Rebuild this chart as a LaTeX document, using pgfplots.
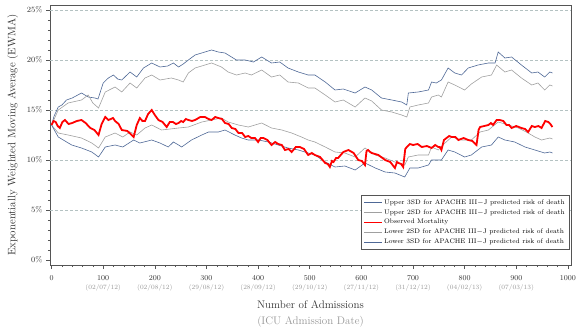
\documentclass[border=0pt]{standalone}
\usepackage{pgfplots}
\pgfplotsset{compat=1.18}
\definecolor{bluel}{RGB}{78,104,150}
\definecolor{grayl}{RGB}{160,160,160}
\definecolor{gridc}{RGB}{180,194,194}
\definecolor{framec}{RGB}{85,85,85}
\definecolor{datec}{RGB}{150,150,150}
\begin{document}
\begin{tikzpicture}
\begin{axis}[
  at={(0,0)}, anchor=south west,
  scale only axis, width=521pt, height=260pt,
  xmin=-3, xmax=1006, ymin=-0.5, ymax=25.5,
  axis line style={framec, line width=0.6pt},
  tick align=outside, tick style={framec, line width=0.5pt},
  major tick length=4pt, minor tick length=2.2pt,
  xtick={0,100,...,1000},
  xticklabels={0,{100\\\textcolor{datec}{\fontsize{6.5}{7}\selectfont(02/07/12)}},{200\\\textcolor{datec}{\fontsize{6.5}{7}\selectfont(02/08/12)}},{300\\\textcolor{datec}{\fontsize{6.5}{7}\selectfont(29/08/12)}},{400\\\textcolor{datec}{\fontsize{6.5}{7}\selectfont(28/09/12)}},{500\\\textcolor{datec}{\fontsize{6.5}{7}\selectfont(29/10/12)}},{600\\\textcolor{datec}{\fontsize{6.5}{7}\selectfont(27/11/12)}},{700\\\textcolor{datec}{\fontsize{6.5}{7}\selectfont(31/12/12)}},{800\\\textcolor{datec}{\fontsize{6.5}{7}\selectfont(04/02/13)}},{900\\\textcolor{datec}{\fontsize{6.5}{7}\selectfont(07/03/13)}},1000},
  xticklabel style={align=center, font=\fontsize{7.5}{9}\selectfont, text=black!80, yshift=-3pt},
  minor x tick num=4,
  ytick={0,5,...,25},
  yticklabels={0\%,5\%,10\%,15\%,20\%,25\%},
  yticklabel style={font=\fontsize{8}{9}\selectfont, text=black!80},
  minor y tick num=4,
  extra y ticks={5,10,15,20,25},
  extra y tick labels={},
  extra y tick style={ymajorgrids=true, major tick length=0pt},
  major grid style={gridc, dashed, dash pattern=on 3pt off 2pt, line width=0.6pt},
  xtick pos=bottom, ytick pos=left,
  xlabel={Number of Admissions\\\textcolor{datec}{(ICU Admission Date)}},
  xlabel style={align=center, font=\fontsize{11}{16}\selectfont, text=black!80, yshift=-3pt},
  ylabel={Exponentially Weighted Moving Average (EWMA)},
  ylabel style={font=\fontsize{10.8}{12}\selectfont, text=black!80, yshift=-2pt},
  legend style={at={(0.998,0.058)}, anchor=south east, draw=framec, line width=0.5pt,
    font=\fontsize{6.6}{7.5}\selectfont, cells={anchor=west}, row sep=-0.3pt,
    inner xsep=3pt, inner ysep=2.5pt},
  legend cell align=left,
  legend image code/.code={\draw[#1] (0cm,0cm) -- (0.62cm,0cm);},
]
\addlegendimage{bluel, line width=0.7pt}
\addlegendentry{Upper 3SD for APACHE III$-$J predicted risk of death}
\addlegendimage{grayl, line width=0.7pt}
\addlegendentry{Upper 2SD for APACHE III$-$J predicted risk of death}
\addlegendimage{red, line width=0.7pt}
\addlegendentry{Observed Mortality}
\addlegendimage{grayl, line width=0.7pt}
\addlegendentry{Lower 2SD for APACHE III$-$J predicted risk of death}
\addlegendimage{bluel, line width=0.7pt}
\addlegendentry{Lower 3SD for APACHE III$-$J predicted risk of death}

% Upper 3SD
\addplot[bluel, line width=0.6pt, forget plot] coordinates {
(0,13.5)(5,14.4)(13,15.3)(20,15.5)(29,16.0)(40,16.2)(58,16.7)(71,16.3)(84,16.2)(90,16.1)
(100,17.7)(110,18.2)(120,18.5)(128,18.1)(136,18.0)(152,18.8)(165,18.3)(178,19.2)(194,19.7)
(210,19.3)(225,19.4)(236,19.7)(246,19.3)(255,19.6)(265,20.0)(278,20.5)(297,20.8)(310,21.0)
(323,20.8)(336,20.7)(358,20.0)(375,20.0)(391,19.8)(407,20.3)(426,19.7)(442,19.8)(458,19.2)
(478,18.8)(497,18.5)(510,18.5)(530,17.8)(549,17.0)(565,17.1)(588,16.7)(607,17.3)(620,17.0)
(639,16.2)(659,16.0)(678,15.8)(688,15.5)(691,16.7)(710,16.8)(730,17.0)(736,17.8)(745,17.7)
(755,18.0)(768,19.2)(781,18.7)(794,18.5)(807,19.2)(826,19.5)(846,19.7)(859,19.7)(865,20.8)
(878,20.2)(891,20.3)(910,19.5)(930,18.7)(942,18.8)(955,18.3)(965,18.8)(970,18.7)};
% Upper 2SD
\addplot[grayl, line width=0.6pt, forget plot] coordinates {
(0,13.5)(13,15.0)(32,15.7)(58,16.0)(71,16.5)(80,15.7)(91,15.2)(104,16.8)(123,17.3)(136,16.8)
(152,17.7)(165,17.2)(181,18.2)(194,18.5)(210,18.0)(232,18.2)(246,18.0)(255,17.8)(265,18.7)
(278,19.2)(297,19.5)(310,19.7)(329,19.3)(342,18.8)(358,18.5)(375,18.7)(387,18.5)(407,19.0)
(426,18.3)(442,18.5)(458,17.8)(478,17.7)(497,17.2)(510,17.2)(530,16.5)(549,15.8)(565,16.0)
(588,15.3)(607,16.2)(620,15.9)(639,15.0)(659,14.8)(678,14.5)(688,14.3)(694,15.3)(710,15.5)
(730,15.7)(736,16.3)(749,16.5)(755,16.3)(768,17.8)(781,17.5)(800,17.0)(813,17.6)(833,18.3)
(852,18.5)(862,19.5)(878,18.8)(891,19.0)(910,18.2)(930,17.5)(942,17.7)(955,17.0)(965,17.5)(970,17.4)};
% Lower 2SD
\addplot[grayl, line width=0.6pt, forget plot] coordinates {
(0,13.5)(13,12.7)(32,12.5)(58,12.2)(78,11.7)(91,11.2)(104,12.3)(123,12.7)(138,12.3)(152,12.8)
(165,12.5)(181,13.2)(194,13.5)(213,13.0)(246,13.2)(265,13.3)(291,13.8)(310,14.0)(329,14.2)
(342,13.8)(362,13.5)(381,13.3)(407,13.7)(426,13.2)(446,13.0)(465,12.7)(484,12.3)(497,12.0)
(510,11.8)(530,11.3)(549,10.8)(568,10.7)(588,10.3)(607,11.2)(627,10.5)(646,10.2)(665,9.8)
(684,9.5)(691,10.3)(710,10.5)(730,10.5)(736,11.3)(749,11.0)(762,11.7)(775,12.3)(794,12.0)
(813,12.0)(830,12.8)(846,13.0)(865,13.8)(885,13.5)(904,13.2)(923,12.7)(936,12.3)(949,12.0)
(965,12.2)(970,12.1)};
% Lower 3SD
\addplot[bluel, line width=0.6pt, forget plot] coordinates {
(0,13.5)(13,12.3)(39,11.5)(58,11.2)(78,10.8)(91,10.3)(104,11.3)(123,11.5)(138,11.3)(159,12.0)
(171,11.7)(194,12.0)(210,11.7)(226,11.3)(236,11.8)(246,11.5)(252,11.3)(271,12.0)(291,12.5)
(304,12.8)(323,12.8)(336,13.0)(355,12.5)(368,12.2)(381,12.0)(401,12.0)(420,11.8)(439,11.5)
(458,11.2)(478,11.0)(497,10.7)(510,10.5)(530,9.8)(549,9.3)(568,9.4)(588,9.0)(607,9.7)
(627,9.2)(646,8.8)(665,8.7)(684,8.3)(694,9.2)(710,9.2)(730,9.5)(736,10.0)(749,10.0)(755,10.0)
(768,11.0)(781,10.8)(800,10.3)(813,10.5)(833,11.3)(852,11.5)(865,12.3)(878,12.0)(897,11.8)
(917,11.3)(936,11.0)(955,10.7)(965,10.8)(970,10.7)};
% Observed
\addplot[red, line width=1.8pt, forget plot] coordinates {
(0,13.5)(4,13.9)(8,13.8)(12,13.4)(16,13.2)(21,13.8)(26,14.0)(33,13.6)(40,13.7)(49,13.9)(58,14.0)
(66,13.7)(75,13.2)(83,13.0)(91,12.5)(97,13.6)(104,14.3)(110,14.0)(115,14.1)(119,14.2)(123,13.9)
(130,13.6)(136,13.0)(147,12.9)(159,12.3)(165,13.5)(171,14.2)(176,13.9)(181,13.9)(187,14.6)
(194,15.0)(200,14.5)(207,14.0)(215,13.8)(223,13.3)(229,13.8)(235,13.8)(241,13.6)(246,13.7)
(251,13.9)(255,13.8)(260,14.1)(265,14.0)(272,13.9)(278,14.0)(288,14.3)(297,14.3)(304,14.1)
(310,14.0)(317,14.3)(323,14.2)(330,14.1)(336,13.7)(343,13.6)(349,13.2)(356,13.1)(362,12.7)
(369,12.7)(375,12.3)(381,12.4)(387,12.2)(394,12.2)(400,11.8)(405,12.2)(410,12.2)(418,12.0)
(426,11.5)(433,11.8)(439,11.6)(446,11.5)(452,11.0)(459,11.1)(465,10.8)(473,11.3)(481,11.3)
(489,11.1)(497,10.5)(504,10.7)(510,10.5)(520,10.3)(530,9.7)(535,9.6)(539,9.3)(543,9.9)
(546,9.8)(551,10.2)(555,10.2)(565,10.8)(575,11.0)(585,10.7)(594,10.0)(601,9.9)(607,9.5)
(610,10.9)(613,11.0)(617,10.8)(620,10.7)(633,10.5)(646,10.0)(656,9.8)(665,9.2)(669,9.8)
(672,9.7)(677,9.6)(681,9.3)(685,11.1)(688,11.3)(694,11.6)(700,11.5)(709,11.6)(717,11.3)
(727,11.4)(736,11.2)(743,11.5)(749,11.3)(752,11.3)(755,11.0)(760,12.0)(765,12.2)(770,12.4)
(775,12.3)(782,12.3)(788,12.0)(798,12.2)(807,12.0)(815,11.9)(823,11.5)(827,13.0)(830,13.3)
(838,13.4)(846,13.5)(851,13.7)(855,13.5)(862,14.0)(868,14.0)(875,13.9)(881,13.5)(886,13.5)
(891,13.2)(900,13.4)(910,13.2)(917,13.1)(923,12.8)(930,13.4)(936,13.3)(943,13.4)(949,13.2)
(956,13.9)(962,13.8)(966,13.6)(970,13.3)};
\end{axis}
\pgfresetboundingbox
\path[use as bounding box] (-50pt,-65pt) rectangle (528pt,265pt);
\end{tikzpicture}
\end{document}
